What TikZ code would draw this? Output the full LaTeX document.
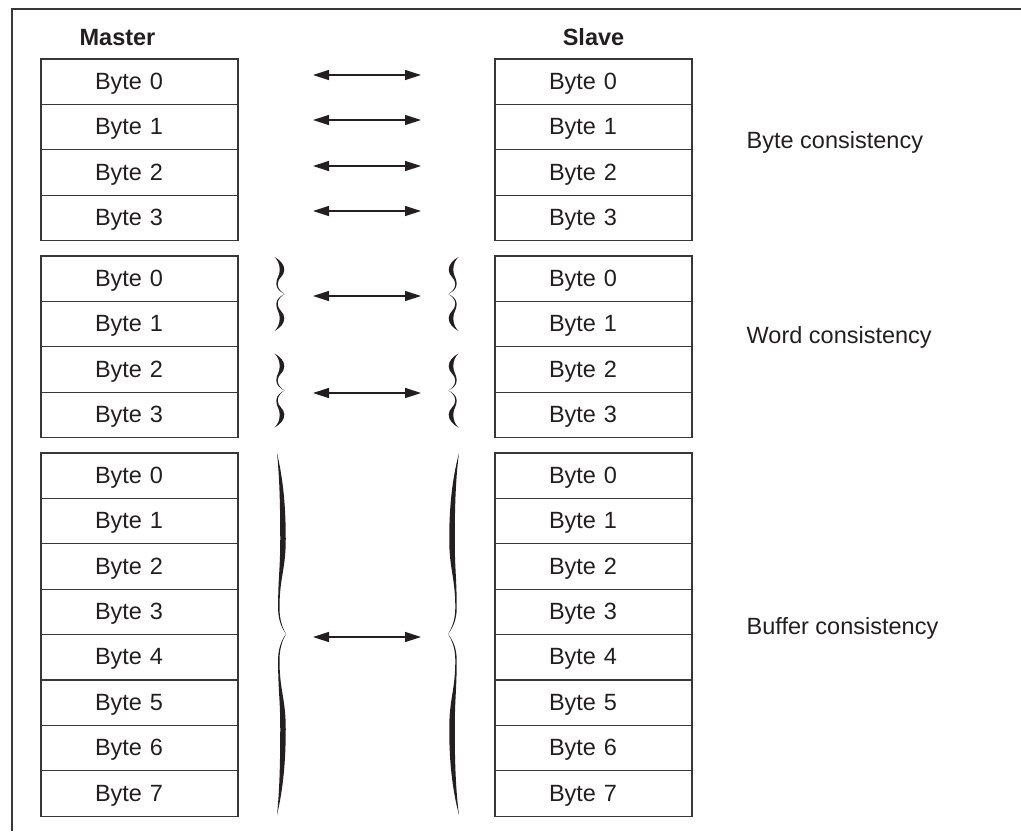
\documentclass[tikz,border=0pt]{standalone}
\usepackage{fontspec}
\setmainfont{Liberation Sans}
\usetikzlibrary{arrows.meta}
\definecolor{ink}{RGB}{35,31,32}
\definecolor{linec}{RGB}{55,55,55}
\newcommand{\bodyfont}{\fontsize{23.5}{28}\selectfont}
% half of a calligraphic brace, cusp at origin, pointing to +x, going up
\newcommand{\halfbrc}[7]{%
 \fill[ink] ({#1},{-(#2)})
  .. controls ({(#1)+0.6*((#3)-(#1))-(#7)/4},{-(#2)+0.25*((#2)-(#4))}) and ({(#3)-(#7)/2},{-(#4)-0.45*((#2)-(#4))}) .. ({(#3)-(#7)/2},{-(#4)})
  .. controls ({(#3)-(#7)/2},{-(#4)+0.45*((#4)-(#6))}) and ({(#5)-0.7},{-(#6)-0.45*((#4)-(#6))}) .. ({(#5)-0.7},{-(#6)})
  .. controls ({(#5)-0.7},{-0.5*(#6)}) and ({0.45*(#5)-0.4},{-0.2*(#6)}) .. (0,0)
  .. controls ({0.45*(#5)+0.4},{-0.2*(#6)}) and ({(#5)+0.7},{-0.5*(#6)}) .. ({(#5)+0.7},{-(#6)})
  .. controls ({(#5)+0.7},{-(#6)-0.45*((#4)-(#6))}) and ({(#3)+(#7)/2},{-(#4)+0.45*((#4)-(#6))}) .. ({(#3)+(#7)/2},{-(#4)})
  .. controls ({(#3)+(#7)/2},{-(#4)-0.45*((#2)-(#4))}) and ({(#1)+0.6*((#3)-(#1))+(#7)/4},{-(#2)+0.25*((#2)-(#4))}) .. ({#1},{-(#2)}) -- cycle;}
\newcommand{\fullbrc}[9]{%
 \begin{scope}[shift={(#1,#2)},xscale=#3]
  \halfbrc{#4}{#5}{#6}{#7}{#8}{#9}{5.5}
  \begin{scope}[yscale=-1]\halfbrc{#4}{#5}{#6}{#7}{#8}{#9}{5.5}\end{scope}
 \end{scope}}
\newcommand{\smallbrc}[3]{%
 \begin{scope}[shift={(#1,#2)},xscale=#3]
  \halfbrc{-10}{37}{-2.5}{24}{-7.5}{10}{4.6}
  \begin{scope}[yscale=-1]\halfbrc{-10}{37}{-2.5}{24}{-7.5}{10}{4.6}\end{scope}
 \end{scope}}
\tikzset{
  cell/.style={draw=linec, line width=1.3pt, minimum width=197pt, minimum height=45.4pt,
    text width=89pt, inner xsep=54pt, inner ysep=0pt, align=left,
    text height=17pt, text depth=2pt, outer sep=0pt, text=ink},
  head/.style={font=\bodyfont\bfseries, anchor=base, inner sep=0pt, text=ink},
  lbl/.style={anchor=base west, inner sep=0pt, text=ink},
  dbl/.style={{Triangle[length=16pt,width=10pt]}-{Triangle[length=16pt,width=10pt]}, line width=1.3pt, draw=ink},
}
\begin{document}
\begin{tikzpicture}[x=1pt,y=-1pt,font=\bodyfont]
\useasboundingbox[fill=white] (0,0) rectangle (1021,831);
\draw[linec, line width=1.5pt] (12,831) -- (12,9) -- (1021,9);

\node[head] (master) at (117.5,45) {Master};
\node[head] (slave) at (593.5,45) {Slave};

\foreach \i in {0,...,3} {
  \node[cell] (mA\i) at (139.5,{59+22.7+45.4*\i}) {Byte \i};
  \node[cell] (sA\i) at (593.5,{59+22.7+45.4*\i}) {Byte \i};
  \node[cell] (mB\i) at (139.5,{256+22.7+45.4*\i}) {Byte \i};
  \node[cell] (sB\i) at (593.5,{256+22.7+45.4*\i}) {Byte \i};
}
\foreach \i in {0,...,7} {
  \node[cell] (mC\i) at (139.5,{453+22.7+45.4*\i}) {Byte \i};
  \node[cell] (sC\i) at (593.5,{453+22.7+45.4*\i}) {Byte \i};
}

\node[lbl] (lbyte) at (746.5,148) {Byte consistency};
\node[lbl] (lword) at (746.5,343) {Word consistency};
\node[lbl] (lbuf) at (746.5,634) {Buffer consistency};

% arrows
\foreach \n/\y in {a1/75, a2/120, a3/166, a4/211, b1/296, b2/393, c1/637} {
  \coordinate (\n l) at (313,\y);
  \coordinate (\n r) at (421,\y);
  \draw[dbl] (\n l) -- (\n r);
}

% braces
\smallbrc{284.5}{294}{1}
\smallbrc{284.5}{390.5}{1}
\smallbrc{448.5}{294}{-1}
\smallbrc{448.5}{390.5}{-1}
\fullbrc{286}{634}{1}{-9}{181}{-3}{95}{-7.2}{26}
\fullbrc{448}{634}{-1}{-11}{181}{-4}{95}{-8}{26}
\end{tikzpicture}
\end{document}
